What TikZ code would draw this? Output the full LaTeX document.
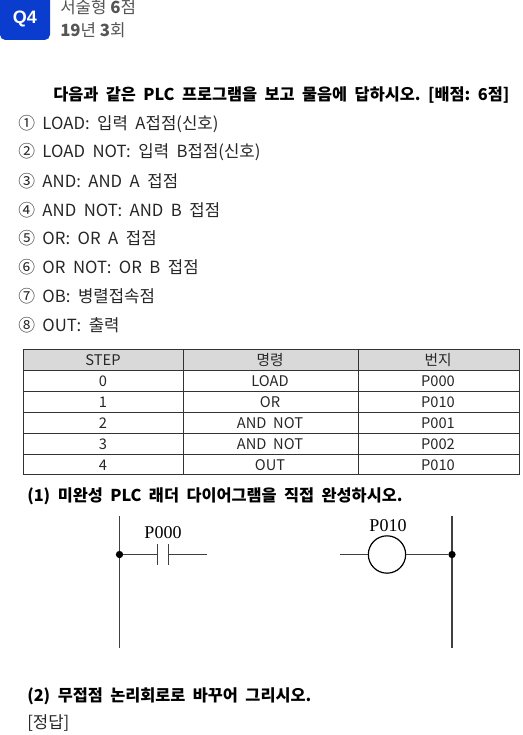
\documentclass[tikz,border=0pt]{standalone}
\usepackage{fontspec}
\setmainfont{Noto Sans CJK KR}
\newfontfamily\headfont{Liberation Sans}
\newfontfamily\ladderfont{Liberation Serif}
\usetikzlibrary{positioning}
\definecolor{badgeblue}{RGB}{10,60,205}
\definecolor{headgray}{RGB}{217,217,217}
\definecolor{subgray}{RGB}{85,85,85}
\tikzset{
  itemtext/.style={anchor=west,inner sep=0pt,font=\fontsize{12.55pt}{14pt}\selectfont,text=black!85},
  boldtext/.style={itemtext,font=\fontsize{12.25pt}{14pt}\selectfont\bfseries,text=black},
  subtext/.style={anchor=west,inner sep=0pt,font=\fontsize{12.6pt}{14pt}\selectfont,text=subgray},
  celltext/.style={inner sep=0pt,font=\fontsize{11pt}{13pt}\selectfont,text=black!85},
  tableline/.style={draw=black!80,line width=0.6pt},
  wireline/.style={draw=black!75,line width=0.75pt},
  railline/.style={draw=black!75,line width=0.9pt},
  ladderlabel/.style={inner sep=0pt,font=\ladderfont\fontsize{13.5pt}{15pt}\selectfont},
  dotnode/.style={circle,fill=black,inner sep=0pt,minimum size=5.5pt}
}
\begin{document}
\begin{tikzpicture}[x=0.75pt,y=-0.75pt]
  \useasboundingbox (0,0) rectangle (522,735);

  % Badge and heading
  \fill[badgeblue,rounded corners=4pt] (0,-5) rectangle (50,40);
  \node[font=\headfont\bfseries\fontsize{13.5pt}{15pt}\selectfont,text=white,inner sep=0pt] (badge) at (25,19) {Q4};
  \node[subtext] (kind) at (60,7) {서술형 \textbf{6}점};
  \node[subtext] (year) at (60,30) {\textbf{19}년 \textbf{3}회};

  % Question and items
  \node[boldtext] (question) at (53,95.5) {다음과\ \ 같은\ \ PLC\ \ 프로그램을\ \ 보고\ \ 물음에\ \ 답하시오.\ \ [배점:\ \ 6점]};
  \node[itemtext] (item1) at (18,124) {①\ \ LOAD:\ \ 입력\ \ A접점(신호)};
  \node[itemtext] (item2) at (18,152.5) {②\ \ LOAD\ \ NOT:\ \ 입력\ \ B접점(신호)};
  \node[itemtext] (item3) at (18,181) {③\ \ AND:\ \ AND\ \ A\ \ 접점};
  \node[itemtext] (item4) at (18,210) {④\ \ AND\ \ NOT:\ \ AND\ \ B\ \ 접점};
  \node[itemtext] (item5) at (18,238.5) {⑤\ \ OR:\ \ OR\ \ A\ \ 접점};
  \node[itemtext] (item6) at (18,267) {⑥\ \ OR\ \ NOT:\ \ OR\ \ B\ \ 접점};
  \node[itemtext] (item7) at (18,296) {⑦\ \ OB:\ \ 병렬접속점};
  \node[itemtext] (item8) at (18,325) {⑧\ \ OUT:\ \ 출력};

  % Table
  \fill[headgray] (23,349) rectangle (519,370);
  \draw[tableline] (23,349) rectangle (519,474);
  \foreach \y in {370,391,412,433,454} {
    \draw[tableline] (23,\y) -- (519,\y);
  }
  \draw[tableline] (183,349) -- (183,474);
  \draw[tableline] (358,349) -- (358,474);

  \node[celltext] (headstep) at (103,360) {STEP};
  \node[celltext] (headcmd) at (270,360) {명령};
  \node[celltext] (headaddr) at (438,360) {번지};
  \node[celltext] (step0) at (103,381) {0};
  \node[celltext] (cmd0) at (270,381) {LOAD};
  \node[celltext] (addr0) at (438,381) {P000};
  \node[celltext] (step1) at (103,402) {1};
  \node[celltext] (cmd1) at (270,402) {OR};
  \node[celltext] (addr1) at (438,402) {P010};
  \node[celltext] (step2) at (103,423) {2};
  \node[celltext] (cmd2) at (270,423) {AND\ \ NOT};
  \node[celltext] (addr2) at (438,423) {P001};
  \node[celltext] (step3) at (103,444) {3};
  \node[celltext] (cmd3) at (270,444) {AND\ \ NOT};
  \node[celltext] (addr3) at (438,444) {P002};
  \node[celltext] (step4) at (103,465) {4};
  \node[celltext] (cmd4) at (270,465) {OUT};
  \node[celltext] (addr4) at (438,465) {P010};

  % Part (1)
  \node[boldtext] (part1) at (27,496) {(1)\ \ 미완성\ \ PLC\ \ 래더\ \ 다이어그램을\ \ 직접\ \ 완성하시오.};

  % Ladder rails
  \coordinate (lefttop) at (119.5,516);
  \coordinate (leftbot) at (119.5,648);
  \coordinate (righttop) at (452,516);
  \coordinate (rightbot) at (452,648);
  \draw[railline] (lefttop) -- (leftbot);
  \draw[railline] (righttop) -- (rightbot);

  % Contact P000
  \node[dotnode] (leftdot) at (119.5,554.5) {};
  \coordinate (plateA) at (157,554.5);
  \coordinate (plateB) at (168,554.5);
  \coordinate (leftend) at (207,554.5);
  \draw[wireline] (leftdot) -- (plateA);
  \draw[wireline] (plateB) -- (leftend);
  \draw[wireline] (157,544) -- (157,565);
  \draw[wireline] (168,544) -- (168,565);
  \node[ladderlabel] (labelP000) at (163,533) {P000};

  % Coil P010
  \node[circle,draw=black,line width=0.9pt,minimum size=28pt,inner sep=0pt] (coil) at (387,554.5) {};
  \node[dotnode] (rightdot) at (452,554.5) {};
  \coordinate (rightend) at (340,554.5);
  \draw[wireline] (rightend) -- (coil);
  \draw[wireline] (coil) -- (rightdot);
  \node[ladderlabel] (labelP010) at (388,526) {P010};

  % Part (2) and answer
  \node[boldtext] (part2) at (27,696) {(2)\ \ 무접점\ \ 논리회로로\ \ 바꾸어\ \ 그리시오.};
  \node[itemtext] (answer) at (27,723) {[정답]};
\end{tikzpicture}
\end{document}
